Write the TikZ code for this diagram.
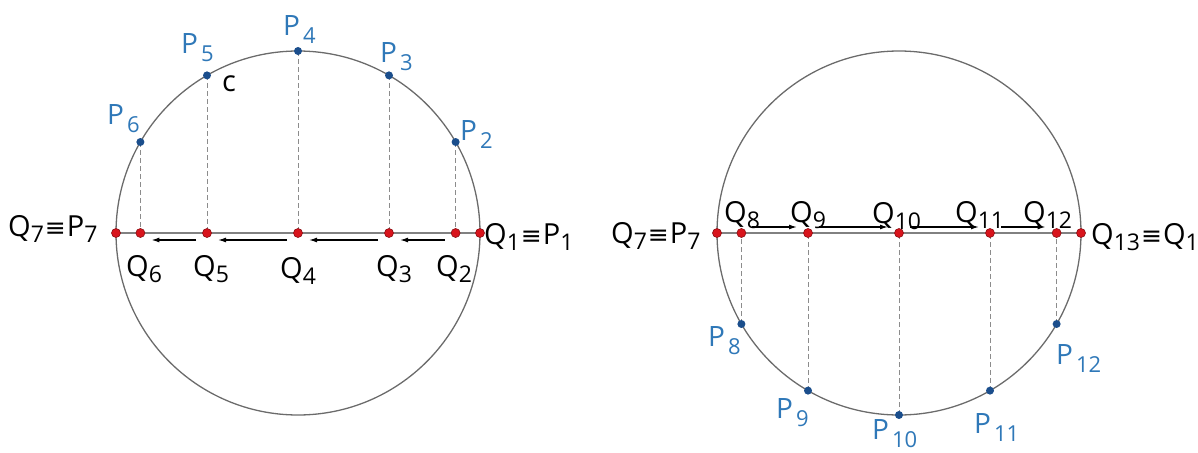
\documentclass[tikz,border=0pt]{standalone}
\usepackage{fontspec}
\setmainfont{Open Sans}
\newfontfamily\symfont{DejaVu Sans}
\usetikzlibrary{arrows.meta,calc}
\definecolor{lblue}{HTML}{2F78B8}
\definecolor{dblue}{HTML}{1B4E8C}
\definecolor{rdot}{HTML}{D8141C}
\definecolor{rdotb}{HTML}{8A0F14}
\definecolor{gline}{HTML}{6B6B6B}
\definecolor{gdash}{HTML}{8C8C8C}
\newcommand\psub[1]{\hspace{3pt}\raisebox{-8pt}{\fontsize{22}{22}\selectfont #1}}
\newcommand\qsub[1]{\raisebox{-6pt}{\fontsize{23}{23}\selectfont #1}}
\newcommand\eqv{\hspace{1pt}{\symfont\fontsize{25}{25}\selectfont ≡}\hspace{1pt}}
\tikzset{
  ringln/.style={draw=gline,line width=1.3pt},
  diamln/.style={draw=gline!85,line width=2pt},
  dashln/.style={draw=gdash,line width=1pt,dash pattern=on 5pt off 3pt},
  arr/.style={draw=black,line width=1.3pt,-{Latex[length=8pt,width=5pt]},shorten <=11pt,shorten >=11pt},
  reddot/.style={circle,fill=rdot,draw=rdotb,line width=0.6pt,minimum size=9pt,inner sep=0pt},
  bluedot/.style={circle,fill=dblue,minimum size=8pt,inner sep=0pt},
  plbl/.style={anchor=base west,inner sep=0pt,text=lblue,font=\fontsize{28}{30}\selectfont},
  qlbl/.style={anchor=base west,inner sep=0pt,text=black,font=\fontsize{29}{31}\selectfont},
}
\begin{document}
\begin{tikzpicture}[x=1pt,y=-1pt]
\useasboundingbox (0,0) rectangle (1198,452);
% ---------- left circle ----------
\coordinate (LC) at (298,233);
\foreach \k in {1,...,7}{
  \pgfmathsetmacro\a{(\k-1)*30}
  \coordinate (LP\k) at ({298+182*cos(\a)},{233-182*sin(\a)});
  \coordinate (LQ\k) at ({298+182*cos(\a)},233);
}
\draw[ringln] (LC) circle[radius=182pt];
\draw[diamln] (LQ7) -- (LQ1);
\foreach \k in {2,...,6}{ \draw[dashln] (LP\k) -- (LQ\k); }
\foreach \a/\b in {2/3,3/4,4/5,5/6}{
  \draw[arr] ($(LQ\a)+(0,7)$) -- ($(LQ\b)+(0,7)$);
}
\foreach \k in {1,...,7}{ \node[reddot] (lq\k) at (LQ\k) {}; }
\foreach \k in {2,...,6}{ \node[bluedot] (lp\k) at (LP\k) {}; }
% labels left
\node[plbl] (tp2) at (460,140) {P\psub{2}};
\node[plbl] (tp3) at (380,63) {P\psub{3}};
\node[plbl] (tp4) at (283,36) {P\psub{4}};
\node[plbl] (tp5) at (181,54) {P\psub{5}};
\node[plbl] (tp6) at (107,124) {P\psub{6}};
\node[qlbl] (tc) at (222,91) {c};
\node[qlbl] (tq6) at (126,276) {Q\qsub{6}};
\node[qlbl] (tq5) at (193,276) {Q\qsub{5}};
\node[qlbl] (tq4) at (280,278) {Q\qsub{4}};
\node[qlbl] (tq3) at (376,276) {Q\qsub{3}};
\node[qlbl] (tq2) at (436,276) {Q\qsub{2}};
\node[qlbl] (tl7) at (8,236) {Q\qsub{7}\eqv P\qsub{7}};
\node[qlbl] (tl1) at (484,244) {Q\qsub{1}\eqv P\qsub{1}};
% ---------- right circle ----------
\coordinate (RC) at (899,233);
\foreach \k in {7,...,13}{
  \pgfmathsetmacro\a{180+(\k-7)*30}
  \coordinate (RP\k) at ({899+182*cos(\a)},{233-182*sin(\a)});
  \coordinate (RQ\k) at ({899+182*cos(\a)},233);
}
\draw[ringln] (RC) circle[radius=182pt];
\draw[diamln] (RQ7) -- (RQ13);
\foreach \k in {8,...,12}{ \draw[dashln] (RP\k) -- (RQ\k); }
\foreach \a/\b in {8/9,9/10,10/11,11/12}{
  \draw[arr] ($(RQ\a)+(0,-6)$) -- ($(RQ\b)+(0,-6)$);
}
\foreach \k in {7,...,13}{ \node[reddot] (rq\k) at (RQ\k) {}; }
\foreach \k in {8,...,12}{ \node[bluedot] (rp\k) at (RP\k) {}; }
% labels right
\node[plbl] (tp8) at (708,346) {P\psub{8}};
\node[plbl] (tp9) at (776,418) {P\psub{9}};
\node[plbl] (tp10) at (872,439) {P\psub{10}};
\node[plbl] (tp11) at (974,433) {P\psub{11}};
\node[plbl] (tp12) at (1056,364) {P\psub{12}};
\node[qlbl] (tq8) at (724,222) {Q\qsub{8}};
\node[qlbl] (tq9) at (790,222) {Q\qsub{9}};
\node[qlbl] (tq10) at (872,223) {Q\qsub{10}};
\node[qlbl] (tq11) at (955,222) {Q\qsub{11}};
\node[qlbl] (tq12) at (1023,222) {Q\qsub{12}};
\node[qlbl] (tr7) at (611,243) {Q\qsub{7}\eqv P\qsub{7}};
\node[qlbl] (tr13) at (1091,244) {Q\qsub{13}\eqv Q\qsub{1}};
\end{tikzpicture}
\end{document}
